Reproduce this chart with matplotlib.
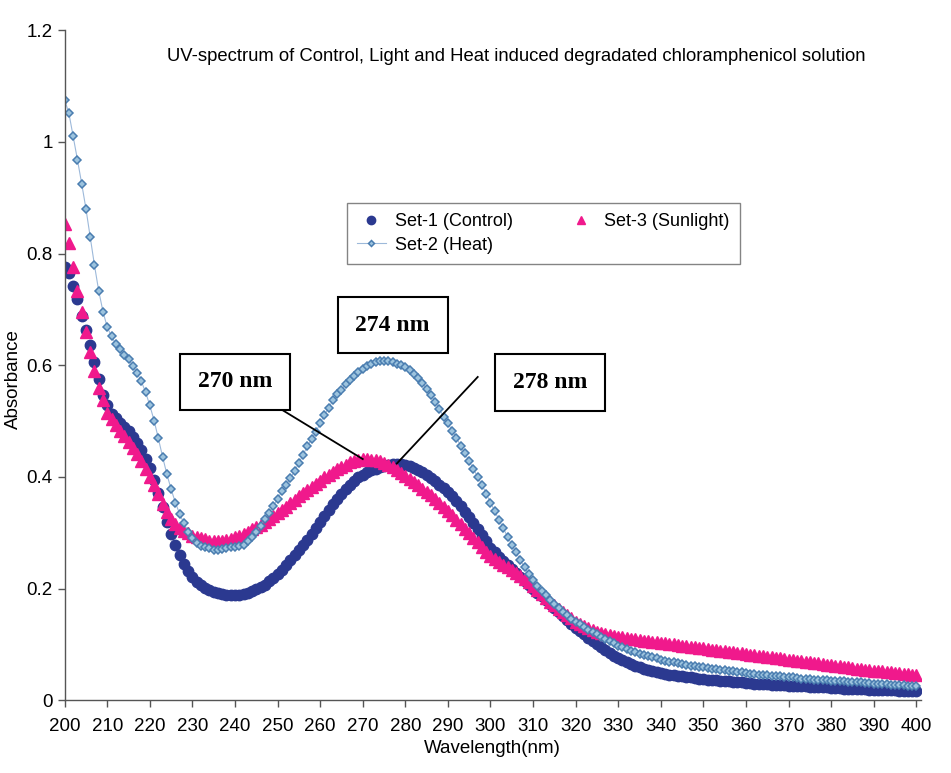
import numpy as np
import matplotlib.pyplot as plt

plt.rcParams['font.family'] = ['Liberation Sans', 'DejaVu Sans']

# wavelength axis, 1 nm steps
wavelength = np.arange(200, 401)

# Set-1 (Control) absorbance
set1_control = [
    0.776, 0.765, 0.742, 0.718, 0.689, 0.663, 0.636, 0.605, 0.575, 0.546,
    0.528, 0.513, 0.505, 0.497, 0.490, 0.482, 0.472, 0.460, 0.449, 0.433,
    0.416, 0.395, 0.372, 0.347, 0.320, 0.298, 0.278, 0.260, 0.244, 0.231,
    0.220, 0.212, 0.206, 0.201, 0.197, 0.194, 0.192, 0.190, 0.189, 0.188,
    0.188, 0.189, 0.191, 0.193, 0.196, 0.199, 0.203, 0.207, 0.213, 0.219,
    0.226, 0.234, 0.243, 0.252, 0.261, 0.270, 0.279, 0.287, 0.297, 0.308,
    0.319, 0.330, 0.341, 0.351, 0.361, 0.370, 0.378, 0.386, 0.393, 0.399,
    0.404, 0.408, 0.412, 0.415, 0.418, 0.420, 0.422, 0.423, 0.424, 0.423,
    0.421, 0.419, 0.416, 0.412, 0.408, 0.403, 0.398, 0.392, 0.386, 0.380,
    0.373, 0.365, 0.357, 0.348, 0.338, 0.328, 0.318, 0.307, 0.296, 0.285,
    0.273, 0.265, 0.257, 0.249, 0.242, 0.235, 0.228, 0.221, 0.214, 0.207,
    0.200, 0.193, 0.186, 0.179, 0.172, 0.165, 0.158, 0.151, 0.144, 0.137,
    0.130, 0.124, 0.118, 0.112, 0.106, 0.100, 0.095, 0.090, 0.085, 0.080,
    0.076, 0.072, 0.068, 0.065, 0.062, 0.059, 0.057, 0.055, 0.053, 0.051,
    0.049, 0.048, 0.046, 0.045, 0.044, 0.043, 0.042, 0.041, 0.040, 0.039,
    0.038, 0.037, 0.037, 0.036, 0.035, 0.035, 0.034, 0.033, 0.033, 0.032,
    0.031, 0.031, 0.030, 0.030, 0.029, 0.029, 0.028, 0.028, 0.027, 0.027,
    0.026, 0.026, 0.026, 0.025, 0.025, 0.024, 0.024, 0.024, 0.023, 0.023,
    0.022, 0.022, 0.022, 0.021, 0.021, 0.021, 0.020, 0.020, 0.020, 0.019,
    0.019, 0.019, 0.019, 0.018, 0.018, 0.018, 0.017, 0.017, 0.017, 0.017,
    0.016,
]

# Set-2 (Heat)
set2_heat = [
    1.075, 1.051, 1.010, 0.968, 0.925, 0.880, 0.829, 0.779, 0.733, 0.696,
    0.668, 0.652, 0.638, 0.629, 0.618, 0.611, 0.599, 0.586, 0.571, 0.552,
    0.528, 0.501, 0.469, 0.436, 0.405, 0.378, 0.354, 0.334, 0.317, 0.302,
    0.290, 0.282, 0.277, 0.274, 0.272, 0.270, 0.270, 0.271, 0.272, 0.274,
    0.274, 0.276, 0.279, 0.285, 0.293, 0.302, 0.313, 0.324, 0.336, 0.348,
    0.361, 0.374, 0.386, 0.398, 0.410, 0.425, 0.440, 0.455, 0.468, 0.480,
    0.497, 0.511, 0.524, 0.537, 0.548, 0.556, 0.566, 0.574, 0.581, 0.588,
    0.593, 0.598, 0.602, 0.605, 0.607, 0.608, 0.607, 0.605, 0.603, 0.600,
    0.596, 0.591, 0.585, 0.577, 0.568, 0.558, 0.547, 0.535, 0.521, 0.508,
    0.496, 0.483, 0.470, 0.456, 0.442, 0.428, 0.414, 0.400, 0.386, 0.370,
    0.354, 0.339, 0.323, 0.308, 0.293, 0.279, 0.265, 0.251, 0.238, 0.226,
    0.215, 0.205, 0.196, 0.188, 0.180, 0.172, 0.165, 0.158, 0.152, 0.146,
    0.141, 0.136, 0.131, 0.126, 0.122, 0.118, 0.114, 0.110, 0.106, 0.102,
    0.098, 0.095, 0.092, 0.089, 0.086, 0.083, 0.081, 0.079, 0.077, 0.075,
    0.073, 0.071, 0.069, 0.068, 0.066, 0.065, 0.063, 0.062, 0.061, 0.060,
    0.059, 0.058, 0.057, 0.056, 0.055, 0.054, 0.053, 0.052, 0.051, 0.050,
    0.049, 0.048, 0.047, 0.046, 0.046, 0.045, 0.044, 0.043, 0.043, 0.042,
    0.041, 0.041, 0.040, 0.039, 0.039, 0.038, 0.037, 0.037, 0.036, 0.036,
    0.035, 0.035, 0.034, 0.034, 0.033, 0.033, 0.032, 0.032, 0.031, 0.031,
    0.030, 0.030, 0.029, 0.029, 0.028, 0.028, 0.027, 0.027, 0.026, 0.026,
    0.025,
]

# Set-3 (Sunlight)
set3_sunlight = [
    0.853, 0.819, 0.776, 0.733, 0.695, 0.659, 0.623, 0.590, 0.560, 0.537,
    0.515, 0.503, 0.493, 0.483, 0.474, 0.463, 0.452, 0.441, 0.428, 0.414,
    0.399, 0.385, 0.369, 0.352, 0.337, 0.325, 0.316, 0.309, 0.303, 0.299,
    0.295, 0.292, 0.290, 0.288, 0.286, 0.285, 0.285, 0.286, 0.287, 0.289,
    0.292, 0.295, 0.298, 0.302, 0.306, 0.310, 0.314, 0.319, 0.324, 0.330,
    0.335, 0.341, 0.347, 0.353, 0.359, 0.365, 0.371, 0.377, 0.382, 0.388,
    0.393, 0.399, 0.404, 0.409, 0.414, 0.418, 0.422, 0.426, 0.429, 0.431,
    0.432, 0.432, 0.431, 0.430, 0.428, 0.425, 0.421, 0.417, 0.412, 0.407,
    0.402, 0.397, 0.391, 0.385, 0.379, 0.373, 0.367, 0.360, 0.353, 0.346,
    0.339, 0.331, 0.323, 0.315, 0.307, 0.299, 0.291, 0.283, 0.275, 0.266,
    0.258, 0.253, 0.248, 0.243, 0.238, 0.233, 0.228, 0.223, 0.218, 0.211,
    0.204, 0.197, 0.190, 0.183, 0.176, 0.170, 0.164, 0.158, 0.153, 0.148,
    0.141, 0.137, 0.133, 0.129, 0.126, 0.123, 0.121, 0.119, 0.117, 0.116,
    0.114, 0.113, 0.112, 0.110, 0.109, 0.108, 0.107, 0.106, 0.105, 0.104,
    0.103, 0.102, 0.101, 0.100, 0.099, 0.098, 0.097, 0.096, 0.095, 0.094,
    0.093, 0.092, 0.091, 0.090, 0.089, 0.088, 0.087, 0.086, 0.085, 0.084,
    0.083, 0.082, 0.081, 0.080, 0.079, 0.078, 0.077, 0.076, 0.075, 0.074,
    0.073, 0.072, 0.071, 0.070, 0.069, 0.068, 0.067, 0.066, 0.065, 0.064,
    0.063, 0.062, 0.061, 0.060, 0.059, 0.058, 0.057, 0.056, 0.055, 0.054,
    0.053, 0.052, 0.052, 0.051, 0.050, 0.049, 0.049, 0.048, 0.047, 0.046,
    0.046,
]

x_ticks = list(range(200, 401, 10))
y_ticks = [0, 0.2, 0.4, 0.6, 0.8, 1.0, 1.2]
y_tick_labels = ['0', '0.2', '0.4', '0.6', '0.8', '1', '1.2']

# peak call-outs: label, box position, line start and arrow target (None = no line)
peak_labels = ['270 nm', '274 nm', '278 nm']
peak_box_x = [240, 277, 314]
peak_box_y = [0.570, 0.672, 0.569]
peak_tip_x = [270, None, 278]
peak_tip_y = [0.432, None, 0.424]
peak_line_x = [250, None, 297]
peak_line_y = [0.525, None, 0.579]

fig = plt.figure(figsize=(9.51, 7.73), dpi=100)
ax = fig.add_axes([0.068, 0.094, 0.90, 0.867])

navy = '#2B3990'
pink = '#F0198C'
steel = '#4A7DB0'

h1, = ax.plot(wavelength, set1_control, linestyle='none', marker='o', ms=7.5,
              color=navy, mec=navy, label='Set-1 (Control)')
h3, = ax.plot(wavelength, set3_sunlight, linestyle='none', marker='^', ms=8,
              color=pink, mec=pink, label='Set-3 (Sunlight)')
h2, = ax.plot(wavelength, set2_heat, linestyle='-', lw=0.8, color='#9DB9DA',
              marker='D', ms=3.8, mfc='#9CC3DE', mec=steel, mew=1.1,
              label='Set-2 (Heat)')

ax.set_xlim(200, 401)
ax.set_ylim(0, 1.2)
ax.set_xticks(x_ticks)
ax.set_yticks(y_ticks)
ax.set_yticklabels(y_tick_labels)
ax.tick_params(direction='out', length=5, width=1, color='#555555',
               labelsize=13.5)
ax.tick_params(axis='x', pad=8)
for side in ['top', 'right']:
    ax.spines[side].set_visible(False)
for side in ['left', 'bottom']:
    ax.spines[side].set_color('#555555')
    ax.spines[side].set_linewidth(1)

ax.set_xlabel('Wavelength(nm)', fontsize=13.5, labelpad=3)
ax.set_ylabel('Absorbance', fontsize=13.5, labelpad=2)
ax.yaxis.set_label_coords(-0.05, 0.48)

ax.text(306, 1.152,
        'UV-spectrum of Control, Light and Heat induced degradated chloramphenicol solution',
        ha='center', va='center', fontsize=13.3)

leg = ax.legend(handles=[h1, h2, h3], ncol=2, loc='upper left',
                bbox_to_anchor=(0.319, 0.66, 0.48, 0.095), mode='expand',
                fontsize=13, frameon=True, fancybox=False, borderpad=0.55,
                labelspacing=0.35, handlelength=1.6, handletextpad=0.5,
                markerscale=0.8)
leg.get_frame().set_edgecolor('#666666')
leg.get_frame().set_linewidth(1)

for i, lab in enumerate(peak_labels):
    if peak_tip_x[i] is not None:
        ax.plot([peak_line_x[i], peak_tip_x[i]], [peak_line_y[i], peak_tip_y[i]],
                color='black', lw=1.3)
    ax.text(peak_box_x[i], peak_box_y[i], lab, ha='center', va='center',
            fontsize=17, fontweight='bold', family='Liberation Serif',
            bbox=dict(boxstyle='square,pad=0.75', fc='white', ec='black', lw=1.5))

fig.savefig('out.png', dpi=100)
